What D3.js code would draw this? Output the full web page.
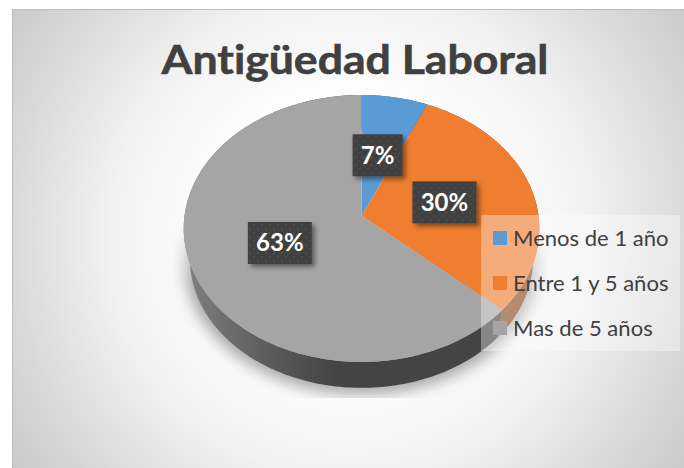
<!DOCTYPE html>
<html>
<head>
  <meta charset="utf-8">
  <title>Antigüedad Laboral</title>
  <script src="https://cdnjs.cloudflare.com/ajax/libs/d3/7.8.5/d3.min.js"></script>
  <style>
    html, body { margin: 0; padding: 0; background: #fff; overflow: hidden; }
    svg { display: block; }
    text { font-family: Lato, "Open Sans", sans-serif; font-variant-ligatures: none; }
  </style>
</head>
<body>
  <svg width="684" height="468"></svg>

  <script>
    // values (slice edges suggest unrounded shares, labels round them)
    var categories = ["Menos de 1 año", "Entre 1 y 5 años", "Mas de 5 años"];
    var values = [6.6, 30, 63.4];
    var colors = ["#5b9bd5", "#ef7e30", "#a5a5a5"];
    var titleText = "Antigüedad Laboral";

    var svg = d3.select("svg"),
        width = +svg.attr("width"),
        height = +svg.attr("height");

    var defs = svg.append("defs");

    // chart area background
    var bg = defs.append("radialGradient")
        .attr("id", "bgGrad")
        .attr("gradientUnits", "userSpaceOnUse")
        .attr("cx", 350).attr("cy", 235).attr("r", 425);
    [[0, "#ffffff"], [0.3, "#ffffff"], [0.56, "#f2f2f2"], [0.8, "#d9d9d9"], [1, "#c6c6c6"]].forEach(function(s) {
      bg.append("stop").attr("offset", s[0]).attr("stop-color", s[1]);
    });

    // side wall of the gray slice
    var wallGrad = defs.append("linearGradient")
        .attr("id", "wallGray")
        .attr("gradientUnits", "userSpaceOnUse")
        .attr("x1", 185).attr("x2", 335).attr("y1", 0).attr("y2", 0);
    wallGrad.append("stop").attr("offset", 0).attr("stop-color", "#808080");
    wallGrad.append("stop").attr("offset", 0.55).attr("stop-color", "#5c5c5c");
    wallGrad.append("stop").attr("offset", 1).attr("stop-color", "#444444");

    // dotted fill of the data labels
    var dots = defs.append("pattern")
        .attr("id", "dots")
        .attr("patternUnits", "userSpaceOnUse")
        .attr("width", 8).attr("height", 8);
    dots.append("rect").attr("width", 8).attr("height", 8).attr("fill", "#3f3f3f");
    dots.append("circle").attr("cx", 2).attr("cy", 2).attr("r", 1).attr("fill", "#565656");
    dots.append("circle").attr("cx", 6).attr("cy", 6).attr("r", 1).attr("fill", "#505050");

    defs.append("filter").attr("id", "soft").attr("x", "-20%").attr("y", "-20%").attr("width", "140%").attr("height", "140%")
      .append("feGaussianBlur").attr("stdDeviation", 7);

    var labelShadow = defs.append("filter").attr("id", "labelShadow")
        .attr("x", "-30%").attr("y", "-30%").attr("width", "170%").attr("height", "170%");
    labelShadow.append("feDropShadow")
        .attr("dx", 3).attr("dy", 3).attr("stdDeviation", 2.5)
        .attr("flood-color", "#000").attr("flood-opacity", 0.45);

    defs.append("clipPath").attr("id", "shadowClip")
      .append("rect").attr("x", 172).attr("y", 200).attr("width", 400).attr("height", 198);

    var shadowFade = defs.append("linearGradient")
        .attr("id", "shadowFade")
        .attr("gradientUnits", "userSpaceOnUse")
        .attr("x1", 0).attr("x2", 0).attr("y1", 205).attr("y2", 285);
    shadowFade.append("stop").attr("offset", 0).attr("stop-color", "#000").attr("stop-opacity", 0);
    shadowFade.append("stop").attr("offset", 1).attr("stop-color", "#000").attr("stop-opacity", 0.32);

    svg.append("rect")
        .attr("x", 12).attr("y", 9)
        .attr("width", width - 12).attr("height", height - 9)
        .attr("fill", "url(#bgGrad)");
    svg.append("path")
        .attr("d", "M12.5," + height + "V9.5H" + width)
        .attr("fill", "none").attr("stroke", "#bdbdbd");

    // tilted pie: a circle seen in perspective, so the apex sits above the ellipse centre
    var cx = 361.5, cy = 216, rx = 177, ry = 132.3, persp = 0.0936;
    var wallDrop = 31, wallScale = 0.965;

    function project(a, r, drop, scale) {
      var u = Math.sin(a) * r, v = Math.cos(a) * r, w = 1 + persp * v;
      return [cx + scale * rx * u / w, cy + drop - scale * ry * v / w];
    }

    var line = d3.line();

    function rim(a0, a1, r, drop, scale) {
      var n = Math.max(2, Math.ceil((a1 - a0) / 0.02));
      return d3.range(n + 1).map(function(i) {
        return project(a0 + (a1 - a0) * i / n, r, drop, scale);
      });
    }

    // squeeze or stretch a text to a width ratio, the fonts here are narrower than the original
    function stretch(sel, ratio) {
      sel.each(function() {
        d3.select(this)
          .attr("textLength", this.getComputedTextLength() * ratio)
          .attr("lengthAdjust", "spacingAndGlyphs");
      });
    }

    var slices = d3.pie().sort(null)(values);

    // soft shadow under the pie
    svg.append("g").attr("clip-path", "url(#shadowClip)")
      .append("path")
        .attr("d", line(rim(0, 2 * Math.PI, 1, 33, 1.0)) + "Z")
        .attr("fill", "url(#shadowFade)")
        .attr("filter", "url(#soft)");

    // side walls
    var wallFill = ["#2f5f8a", "#8a4a1e", "url(#wallGray)"];
    svg.append("g").selectAll("path")
      .data(slices)
      .enter().append("path")
        .attr("d", function(d) {
          var top = rim(d.startAngle, d.endAngle, 1, 0, 1),
              low = rim(d.startAngle, d.endAngle, 1, wallDrop, wallScale).reverse();
          return line(top.concat(low)) + "Z";
        })
        .attr("fill", function(d, i) { return wallFill[i]; });

    // top of the pie
    svg.append("g").selectAll("path")
      .data(slices)
      .enter().append("path")
        .attr("d", function(d) {
          return line([[cx, cy]].concat(rim(d.startAngle, d.endAngle, 1, 0, 1))) + "Z";
        })
        .attr("fill", function(d, i) { return colors[i]; });

    // title
    svg.append("text")
        .attr("x", 355).attr("y", 74)
        .attr("text-anchor", "middle")
        .attr("font-size", 41).attr("font-weight", 700)
        .attr("fill", "#404040")
        .attr("stroke", "#404040").attr("stroke-width", 0.6)
        .text(titleText)
        .call(stretch, 1.087);

    // legend box over the pie
    var legendX = 481, legendY = 215;
    svg.append("rect")
        .attr("x", legendX).attr("y", legendY)
        .attr("width", 199).attr("height", 136)
        .attr("fill", "#fff").attr("fill-opacity", 0.36);

    var legend = svg.append("g").selectAll("g")
      .data(categories)
      .enter().append("g")
        .attr("transform", function(d, i) { return "translate(" + (legendX + 12) + "," + (legendY + 16 + i * 45) + ")"; });
    legend.append("rect")
        .attr("width", 14).attr("height", 14)
        .attr("fill", function(d, i) { return colors[i]; });
    legend.append("text")
        .attr("x", 20).attr("y", 15)
        .attr("font-size", 21)
        .attr("fill", "#404040")
        .text(function(d) { return d; })
        .call(stretch, 1.05);

    // data labels
    var labelW = function(d) { return d.value < 10 ? 50 : 64; }, labelH = 42;
    var total = d3.sum(values);
    var label = svg.append("g").selectAll("g")
      .data(slices)
      .enter().append("g")
        .attr("transform", function(d) {
          var p = project((d.startAngle + d.endAngle) / 2, 0.49, 0, 1);
          return "translate(" + (p[0] - 1) + "," + p[1] + ")";
        });
    label.append("rect")
        .attr("x", function(d) { return -labelW(d) / 2; })
        .attr("y", -labelH / 2)
        .attr("width", labelW).attr("height", labelH)
        .attr("fill", "url(#dots)")
        .attr("filter", "url(#labelShadow)");
    label.append("text")
        .attr("text-anchor", "middle")
        .attr("y", 8.5)
        .attr("font-size", 24).attr("font-weight", 700)
        .attr("fill", "#fff")
        .text(function(d) { return Math.round(d.value / total * 100) + "%"; });
  </script>
</body>
</html>
